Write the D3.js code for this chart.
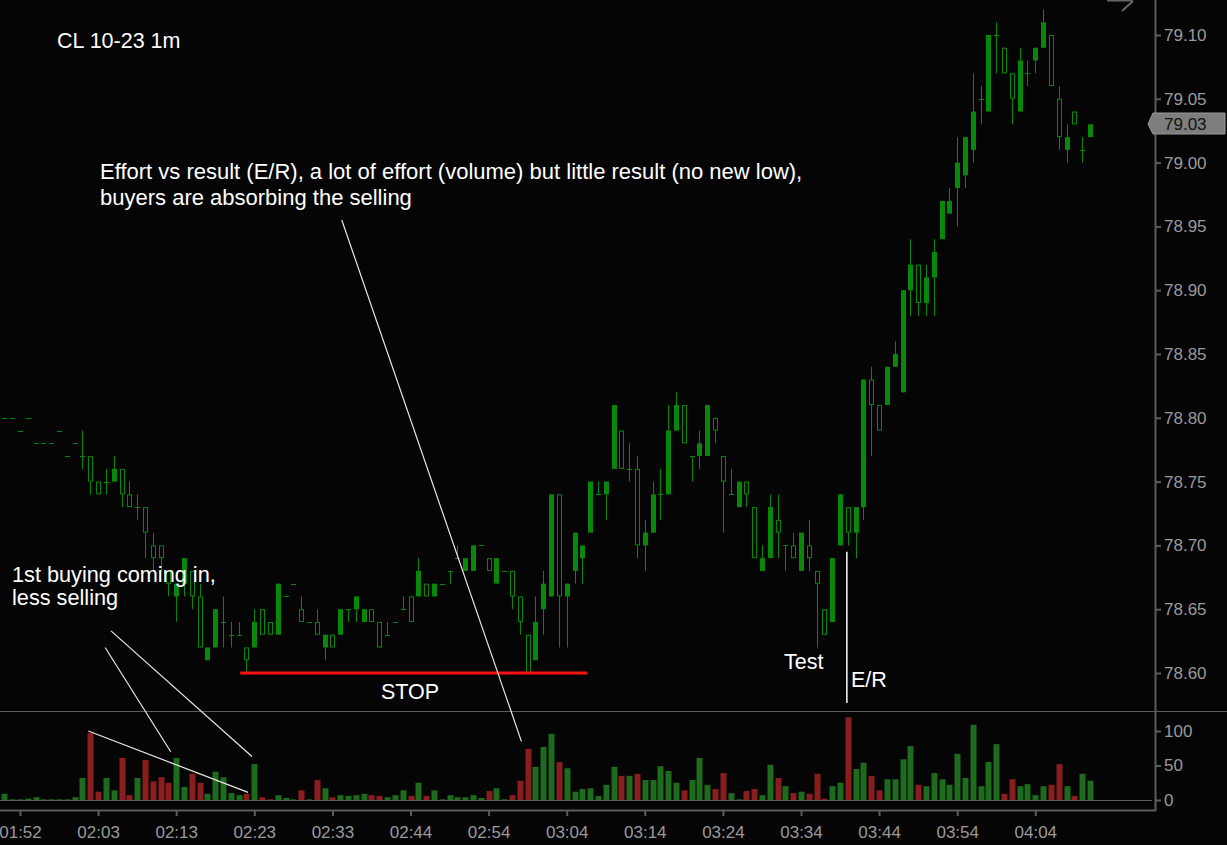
<!DOCTYPE html>
<html>
<head>
<meta charset="utf-8">
<script src="https://cdn.jsdelivr.net/npm/d3@7"></script>
<style>
  html, body { margin: 0; padding: 0; background: #050505; }
  svg { display: block; }
  text { font-family: Arial, "Liberation Sans", sans-serif; }
</style>
</head>
<body>
<svg width="1227" height="845"></svg>
<script>
var svg = d3.select('svg');

// first bar in the arrays is two bars before the 01:52 tick
var firstIndex = -2;

var opens = [
  78.80, 78.80, 78.79, 78.80, 78.78, 78.78, 78.78, 78.79, 78.77, 78.78,
  78.77, 78.77, 78.75, 78.75, 78.75, 78.76, 78.74, 78.73, 78.73, 78.70,
  78.70, 78.68, 78.66, 78.67, 78.68, 78.66, 78.61, 78.62, 78.64, 78.63,
  78.63, 78.62, 78.62, 78.65, 78.64, 78.63, 78.66, 78.67, 78.65, 78.64,
  78.64, 78.62, 78.63, 78.63, 78.65, 78.65, 78.64, 78.65, 78.64, 78.63,
  78.64, 78.65, 78.66, 78.66, 78.67, 78.66, 78.67, 78.68, 78.69, 78.68,
  78.68, 78.70, 78.69, 78.67, 78.68, 78.68, 78.66, 78.63, 78.61, 78.65,
  78.66, 78.74, 78.66, 78.68, 78.69, 78.71, 78.74, 78.74, 78.76, 78.79,
  78.76, 78.76, 78.70, 78.71, 78.74, 78.74, 78.79, 78.81, 78.77, 78.77,
  78.77, 78.80, 78.77, 78.74, 78.73, 78.75, 78.73, 78.68, 78.69, 78.72,
  78.70, 78.70, 78.68, 78.70, 78.68, 78.65, 78.64, 78.70, 78.73, 78.71,
  78.73, 78.83, 78.81, 78.81, 78.84, 78.82, 78.90, 78.92, 78.89, 78.91,
  78.94, 78.96, 78.98, 78.99, 79.01, 79.05, 79.04, 79.10, 79.09, 79.07,
  79.04, 79.07, 79.08, 79.09, 79.10, 79.05, 79.01, 79.04, 79.01, 79.02
];
var highs = [
  78.80, 78.80, 78.79, 78.80, 78.78, 78.78, 78.78, 78.79, 78.77, 78.78,
  78.79, 78.77, 78.75, 78.76, 78.77, 78.76, 78.75, 78.74, 78.73, 78.71,
  78.70, 78.68, 78.67, 78.69, 78.68, 78.67, 78.62, 78.65, 78.66, 78.64,
  78.64, 78.62, 78.65, 78.65, 78.64, 78.67, 78.66, 78.67, 78.66, 78.64,
  78.65, 78.63, 78.63, 78.65, 78.65, 78.66, 78.65, 78.65, 78.64, 78.64,
  78.64, 78.66, 78.66, 78.69, 78.67, 78.67, 78.67, 78.68, 78.70, 78.69,
  78.70, 78.70, 78.69, 78.69, 78.68, 78.68, 78.66, 78.63, 78.66, 78.68,
  78.74, 78.74, 78.67, 78.71, 78.70, 78.75, 78.75, 78.75, 78.81, 78.79,
  78.78, 78.77, 78.72, 78.75, 78.76, 78.81, 78.82, 78.81, 78.77, 78.79,
  78.81, 78.80, 78.77, 78.76, 78.75, 78.75, 78.73, 78.70, 78.74, 78.74,
  78.70, 78.71, 78.71, 78.72, 78.68, 78.65, 78.69, 78.74, 78.73, 78.73,
  78.83, 78.84, 78.81, 78.84, 78.86, 78.90, 78.94, 78.92, 78.92, 78.94,
  78.97, 78.98, 79.02, 79.02, 79.07, 79.06, 79.10, 79.11, 79.09, 79.07,
  79.09, 79.08, 79.09, 79.12, 79.10, 79.06, 79.03, 79.04, 79.02, 79.03
];
var lows = [
  78.80, 78.80, 78.79, 78.80, 78.78, 78.78, 78.78, 78.79, 78.77, 78.78,
  78.76, 78.74, 78.74, 78.74, 78.75, 78.73, 78.73, 78.72, 78.69, 78.68,
  78.68, 78.66, 78.64, 78.66, 78.65, 78.62, 78.61, 78.62, 78.62, 78.62,
  78.63, 78.60, 78.62, 78.63, 78.63, 78.63, 78.66, 78.67, 78.64, 78.64,
  78.63, 78.61, 78.62, 78.63, 78.64, 78.64, 78.64, 78.64, 78.62, 78.63,
  78.64, 78.65, 78.64, 78.66, 78.66, 78.66, 78.67, 78.67, 78.69, 78.68,
  78.68, 78.70, 78.68, 78.67, 78.68, 78.65, 78.63, 78.60, 78.61, 78.63,
  78.66, 78.62, 78.62, 78.67, 78.67, 78.71, 78.74, 78.72, 78.76, 78.76,
  78.75, 78.69, 78.68, 78.71, 78.72, 78.74, 78.79, 78.78, 78.75, 78.76,
  78.77, 78.78, 78.71, 78.74, 78.73, 78.73, 78.69, 78.68, 78.69, 78.69,
  78.68, 78.69, 78.68, 78.68, 78.62, 78.63, 78.64, 78.70, 78.70, 78.69,
  78.72, 78.77, 78.79, 78.81, 78.84, 78.82, 78.88, 78.88, 78.88, 78.88,
  78.94, 78.96, 78.95, 78.98, 79.00, 79.03, 79.04, 79.07, 79.07, 79.03,
  79.04, 79.06, 79.07, 79.09, 79.06, 79.01, 79.00, 79.03, 79.00, 79.02
];
var closes = [
  78.80, 78.80, 78.79, 78.80, 78.78, 78.78, 78.78, 78.79, 78.77, 78.78,
  78.77, 78.75, 78.74, 78.75, 78.76, 78.74, 78.73, 78.73, 78.71, 78.69,
  78.69, 78.67, 78.67, 78.69, 78.66, 78.62, 78.62, 78.65, 78.64, 78.63,
  78.63, 78.61, 78.64, 78.63, 78.63, 78.67, 78.66, 78.67, 78.64, 78.64,
  78.63, 78.63, 78.62, 78.65, 78.65, 78.66, 78.65, 78.64, 78.62, 78.63,
  78.64, 78.65, 78.64, 78.68, 78.66, 78.67, 78.67, 78.68, 78.69, 78.69,
  78.70, 78.70, 78.68, 78.69, 78.68, 78.66, 78.64, 78.60, 78.64, 78.67,
  78.74, 78.66, 78.67, 78.71, 78.70, 78.75, 78.74, 78.75, 78.81, 78.76,
  78.76, 78.70, 78.71, 78.74, 78.74, 78.79, 78.81, 78.78, 78.77, 78.78,
  78.81, 78.79, 78.75, 78.74, 78.75, 78.74, 78.69, 78.69, 78.73, 78.71,
  78.70, 78.69, 78.71, 78.69, 78.67, 78.63, 78.69, 78.74, 78.71, 78.73,
  78.83, 78.81, 78.79, 78.84, 78.85, 78.90, 78.92, 78.89, 78.91, 78.93,
  78.97, 78.97, 79.00, 79.02, 79.04, 79.05, 79.10, 79.10, 79.07, 79.05,
  79.08, 79.07, 79.09, 79.11, 79.06, 79.02, 79.02, 79.03, 79.01, 79.03
];
var volumes = [
   9,   1,   1,   2,   4,   1,   1,   1,   1,   4,
  32,  97,  12,  32,  14,  61,   7,  32,  58,  27,
  33,  25,  61,  19,  38,  25,   9,  41,  33,  10,
   7,   9,  52,   4,   1,   7,   3,   1,  14,   1,
  29,  17,   4,   7,   6,   7,   9,   7,   6,   4,
   7,  14,   6,  25,   6,  14,   1,   7,   4,   4,
   7,   3,  13,  17,   1,   7,  28,  74,  48,  77,
  96,  55,  46,  12,  16,  17,   6,  22,  48,  35,
  35,  38,  29,  29,  49,  42,  25,  14,  29,  61,
  22,  16,  39,  10,   1,  13,  16,   7,  51,  32,
  20,  10,  12,   9,  38,   2,  20,  25, 120,  45,
  54,  35,  14,  30,  30,  59,  78,  22,  20,  39,
  30,  22,  67,  32, 109,  20,  55,  81,   9,  30,
  20,  23,   7,  20,  22,  52,  20,   6,  38,  28
];

var timeTicks = [0, 10, 20, 30, 40, 50, 60, 70, 80, 90, 100, 110, 120, 130];
var timeLabels = ['01:52', '02:03', '02:13', '02:23', '02:33', '02:44', '02:54',
                  '03:04', '03:14', '03:24', '03:34', '03:44', '03:54', '04:04'];
var priceTicks = [78.60, 78.65, 78.70, 78.75, 78.80, 78.85, 78.90, 78.95, 79.00, 79.05, 79.10];
var volumeTicks = [0, 50, 100];

var stopLevel = 78.60;

var bars = opens.map(function (o, k) {
  return { i: firstIndex + k, o: o, h: highs[k], l: lows[k], c: closes[k], v: volumes[k] };
});

// layout
var axisX = 1155;
var pricePaneBottom = 711;
var axisBottom = 810;

var x = d3.scaleLinear().domain([0, 130]).range([20, 20 + 7.81 * 130]);
var y = d3.scaleLinear().domain([78.60, 79.10]).range([673, 35]);
var yv = d3.scaleLinear().domain([0, 100]).range([800, 731]);

var candleGreen = '#088708';
var volGreen = '#1e6b1e';
var volRed = '#8a1e1e';
var axisGrey = '#5c5c5c';
var labelGrey = '#9a9a9a';

svg.append('rect').attr('width', 1227).attr('height', 845).attr('fill', '#050505');

svg.append('clipPath').attr('id', 'priceClip')
  .append('rect').attr('x', 0).attr('y', 0).attr('width', axisX).attr('height', pricePaneBottom);

var pricePane = svg.append('g').attr('clip-path', 'url(#priceClip)');

// wicks
pricePane.selectAll('line.wick')
  .data(bars.filter(function (d) { return d.h > d.l; }))
  .enter()
  .append('line')
  .attr('class', 'wick')
  .attr('x1', function (d) { return Math.round(x(d.i)) + 0.5; })
  .attr('x2', function (d) { return Math.round(x(d.i)) + 0.5; })
  .attr('y1', function (d) { return y(d.h); })
  .attr('y2', function (d) { return y(d.l); })
  .attr('stroke', candleGreen)
  .attr('stroke-width', 1);

// up bars: filled bodies
pricePane.selectAll('rect.up')
  .data(bars.filter(function (d) { return d.c > d.o; }))
  .enter()
  .append('rect')
  .attr('class', 'up')
  .attr('x', function (d) { return Math.round(x(d.i)) - 2; })
  .attr('width', 5)
  .attr('y', function (d) { return y(d.c); })
  .attr('height', function (d) { return y(d.o) - y(d.c); })
  .attr('fill', candleGreen);

// down bars: hollow bodies
pricePane.selectAll('rect.down')
  .data(bars.filter(function (d) { return d.c < d.o; }))
  .enter()
  .append('rect')
  .attr('class', 'down')
  .attr('x', function (d) { return Math.round(x(d.i)) - 1.5; })
  .attr('width', 4)
  .attr('y', function (d) { return y(d.o) + 0.5; })
  .attr('height', function (d) { return y(d.c) - y(d.o) - 1; })
  .attr('fill', '#050505')
  .attr('stroke', candleGreen)
  .attr('stroke-width', 1);

// doji bars: flat dash
pricePane.selectAll('line.doji')
  .data(bars.filter(function (d) { return d.c === d.o; }))
  .enter()
  .append('line')
  .attr('class', 'doji')
  .attr('x1', function (d) { return Math.round(x(d.i)) - 2; })
  .attr('x2', function (d) { return Math.round(x(d.i)) + 3; })
  .attr('y1', function (d) { return Math.round(y(d.c)) + 0.5; })
  .attr('y2', function (d) { return Math.round(y(d.c)) + 0.5; })
  .attr('stroke', candleGreen)
  .attr('stroke-width', 1);

// volume pane
svg.append('line')
  .attr('x1', 0).attr('x2', axisX - 3)
  .attr('y1', yv(0) + 0.5).attr('y2', yv(0) + 0.5)
  .attr('stroke', axisGrey);

svg.selectAll('rect.vol')
  .data(bars)
  .enter()
  .append('rect')
  .attr('class', 'vol')
  .attr('x', function (d) { return Math.round(x(d.i)) - 2.5; })
  .attr('width', 6)
  .attr('y', function (d) { return yv(d.v); })
  .attr('height', function (d) { return yv(0) - yv(d.v); })
  .attr('fill', function (d) { return d.c < d.o ? volRed : volGreen; });

// pane frames
svg.append('line')
  .attr('x1', 0).attr('x2', 1227)
  .attr('y1', pricePaneBottom + 0.5).attr('y2', pricePaneBottom + 0.5)
  .attr('stroke', axisGrey);
svg.append('line')
  .attr('x1', axisX + 0.5).attr('x2', axisX + 0.5)
  .attr('y1', 0).attr('y2', axisBottom + 1)
  .attr('stroke', axisGrey).attr('stroke-width', 2);
svg.append('line')
  .attr('x1', 0).attr('x2', axisX + 1)
  .attr('y1', axisBottom + 0.5).attr('y2', axisBottom + 0.5)
  .attr('stroke', axisGrey).attr('stroke-width', 2);

// axes
function styleAxis(g) {
  g.select('.domain').remove();
  g.selectAll('.tick line').attr('stroke', axisGrey).attr('stroke-width', 2);
  g.selectAll('.tick text')
    .attr('fill', labelGrey)
    .style('font-size', '17px')
    .style('font-family', 'Arial, "Liberation Sans", sans-serif');
}

svg.append('g')
  .attr('transform', 'translate(' + (axisX + 1) + ',0)')
  .call(d3.axisRight(y).tickValues(priceTicks).tickSize(5).tickPadding(3).tickFormat(d3.format('.2f')))
  .call(styleAxis);

svg.append('g')
  .attr('transform', 'translate(' + (axisX + 1) + ',0)')
  .call(d3.axisRight(yv).tickValues(volumeTicks).tickSize(5).tickPadding(3))
  .call(styleAxis);

svg.append('g')
  .attr('transform', 'translate(0,' + (axisBottom + 1) + ')')
  .call(d3.axisBottom(x).tickValues(timeTicks).tickSize(5).tickPadding(10)
    .tickFormat(function (d, k) { return timeLabels[k]; }))
  .call(styleAxis);

// last price marker
var last = bars[bars.length - 1];
var ly = Math.round(y(last.c));
svg.append('path')
  .attr('d', 'M' + (axisX - 7) + ',' + ly + ' L' + (axisX - 2) + ',' + (ly - 11) +
             ' L1225,' + (ly - 11) + ' L1225,' + (ly + 10) + ' L' + (axisX - 2) + ',' + (ly + 10) + ' Z')
  .attr('fill', '#7d7d7d')
  .attr('stroke', '#9a9a9a')
  .attr('stroke-width', 1);
svg.append('text')
  .attr('x', axisX + 9).attr('y', ly + 6)
  .attr('fill', '#111')
  .style('font-size', '17px')
  .text(d3.format('.2f')(last.c));

// cut-off arrow icon top right
svg.append('path')
  .attr('d', 'M1107,0.5 L1133,0.5 M1133,1 L1122,11')
  .attr('stroke', '#666').attr('stroke-width', 2).attr('fill', 'none');

// annotations
var note = svg.append('g')
  .attr('fill', '#fff')
  .style('font-size', '21.5px');

note.append('text').attr('x', 57).attr('y', 48).text('CL 10-23 1m');
note.append('text').attr('x', 100).attr('y', 179).style('font-size', '22px')
  .text('Effort vs result (E/R), a lot of effort (volume) but little result (no new low),');
note.append('text').attr('x', 100).attr('y', 205).style('font-size', '22px')
  .text('buyers are absorbing the selling');
note.append('text').attr('x', 12).attr('y', 582).style('font-size', '21.7px').text('1st buying coming in,');
note.append('text').attr('x', 12).attr('y', 605).style('font-size', '21.7px').text('less selling');
note.append('text').attr('x', 381).attr('y', 699).text('STOP');
note.append('text').attr('x', 784).attr('y', 669).text('Test');
note.append('text').attr('x', 851).attr('y', 687).text('E/R');

// stop line along the low
svg.append('line')
  .attr('x1', x(28.2)).attr('x2', x(72.6))
  .attr('y1', y(stopLevel)).attr('y2', y(stopLevel))
  .attr('stroke', '#ff1010').attr('stroke-width', 3);

function annoLine(x1, y1, x2, y2) {
  svg.append('line')
    .attr('x1', x1).attr('y1', y1).attr('x2', x2).attr('y2', y2)
    .attr('stroke', '#e8e8e8').attr('stroke-width', 1.2);
}

// effort vs result pointer to the heavy down bar
annoLine(x(41.2), y(78.955), x(64.2), yv(85));
// 1st buying pointers
annoLine(x(10.9), y(78.62), x(19.3), yv(70));
annoLine(x(11.65), y(78.633), x(29.7), yv(63));
// falling volume on the selling bars
annoLine(x(8.75), yv(100), x(29.2), yv(11));
// E/R marker under the big volume bar
svg.append('line')
  .attr('x1', x(106) - 1).attr('x2', x(106) - 1)
  .attr('y1', y(78.695)).attr('y2', y(78.5765))
  .attr('stroke', '#fff').attr('stroke-width', 1.5);
</script>
</body>
</html>
